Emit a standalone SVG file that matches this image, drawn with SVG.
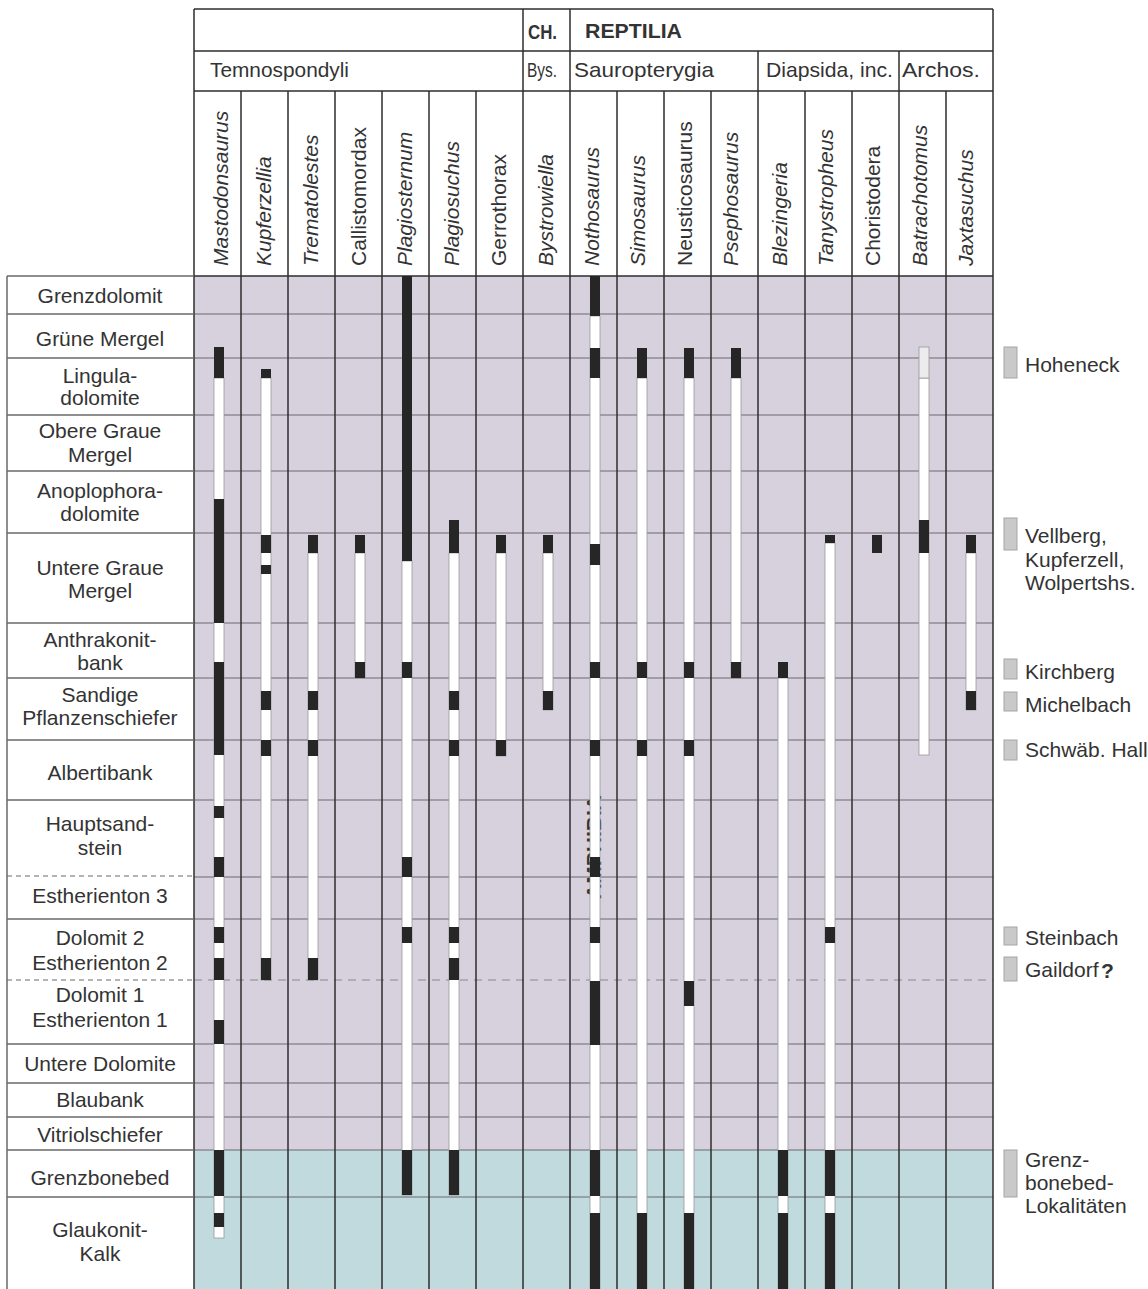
<svg xmlns="http://www.w3.org/2000/svg" width="1148" height="1289" viewBox="0 0 1148 1289">
<defs>
<style>
.t{font-family:"Liberation Sans",Arial,Helvetica,sans-serif;font-size:21px;fill:#333}
.c{text-anchor:middle}
.bd{font-weight:bold}
.i{font-style:italic}
.tx{font-family:"Liberation Sans",Arial,Helvetica,sans-serif;font-size:21px;fill:#333}
.ln{stroke:#2e2e2e;stroke-width:1.5;fill:none}
.gl{stroke:#6d6873;stroke-width:1;fill:none}
.lb{stroke:#6a6a6a;stroke-width:1.5;fill:none}
.ds{stroke:#6a6a6a;stroke-width:1.2;stroke-dasharray:5 4;fill:none}
.dc{stroke:#8a8590;stroke-width:1.2;stroke-dasharray:8 6;fill:none}
.b{fill:#262626}
.w{fill:#fff;stroke:#9a9a9a;stroke-width:0.8}
.p{fill:#ececee;stroke:#9a9a9a;stroke-width:0.8}
.lg{fill:#c9c9c9;stroke:#a5a5a5;stroke-width:1}
</style>
</defs>
<rect width="1148" height="1289" fill="#fff"/>

<g id="chart-background">
<rect x="194" y="276" width="799" height="874" fill="#d6d1dc"/>
<rect x="194" y="1150" width="799" height="139" fill="#c0dadd"/>
</g>

<g id="grid-rows">
<path class="gl" d="M194 314H993M194 358H993M194 415H993M194 471H993M194 533H993M194 623H993M194 678H993M194 740H993M194 800H993M194 877H993M194 919H993M194 1044H993M194 1083H993M194 1117H993M194 1150H993M194 1197H993"/>
<path class="dc" d="M194 980H993"/>
</g>

<g id="amphibia-label">
<text class="t bd" transform="translate(601,847) rotate(-90)" text-anchor="middle" font-size="20">AMPHIBIA</text>
</g>

<g id="header">
<path class="ln" d="M194 9H993M194 51H993M194 91H993M194 276H993"/>
<path class="ln" d="M194 9V1289M993 9V1289M523 9V91M570 9V91M758 51V91M899 51V91"/>
<path class="ln" d="M241 91V1289M288 91V1289M335 91V1289M382 91V1289M429 91V1289M476 91V1289M523 91V1289M570 91V1289M617 91V1289M664 91V1289M711 91V1289M758 91V1289M805 91V1289M852 91V1289M899 91V1289M946 91V1289"/>
<text class="t bd" x="528" y="39" font-size="19" textLength="29" lengthAdjust="spacingAndGlyphs">CH.</text>
<text class="t bd" x="585" y="38" font-size="20" textLength="97" lengthAdjust="spacingAndGlyphs">REPTILIA</text>
<text class="t" x="210" y="77" textLength="139" lengthAdjust="spacingAndGlyphs">Temnospondyli</text>
<text class="t" x="527" y="77" textLength="30" lengthAdjust="spacingAndGlyphs">Bys.</text>
<text class="t" x="574" y="77" textLength="140" lengthAdjust="spacingAndGlyphs">Sauropterygia</text>
<text class="t" x="766" y="77" textLength="127" lengthAdjust="spacingAndGlyphs">Diapsida, inc.</text>
<text class="t" x="902" y="77" textLength="78" lengthAdjust="spacingAndGlyphs">Archos.</text>
</g>

<g id="taxa-names">
<text class="t i" transform="translate(228,266) rotate(-90)">Mastodonsaurus</text>
<text class="t i" transform="translate(271,266) rotate(-90)">Kupferzellia</text>
<text class="t i" transform="translate(318,266) rotate(-90)">Trematolestes</text>
<text class="t" transform="translate(366,266) rotate(-90)">Callistomordax</text>
<text class="t i" transform="translate(412,266) rotate(-90)">Plagiosternum</text>
<text class="t i" transform="translate(459,266) rotate(-90)">Plagiosuchus</text>
<text class="t" transform="translate(506,266) rotate(-90)">Gerrothorax</text>
<text class="t i" transform="translate(553,266) rotate(-90)">Bystrowiella</text>
<text class="t i" transform="translate(599,266) rotate(-90)">Nothosaurus</text>
<text class="t i" transform="translate(645,266) rotate(-90)">Simosaurus</text>
<text class="t" transform="translate(692,266) rotate(-90)">Neusticosaurus</text>
<text class="t i" transform="translate(738,266) rotate(-90)">Psephosaurus</text>
<text class="t i" transform="translate(787,266) rotate(-90)">Blezingeria</text>
<text class="t i" transform="translate(833,266) rotate(-90)">Tanystropheus</text>
<text class="t" transform="translate(880,266) rotate(-90)">Choristodera</text>
<text class="t i" transform="translate(927,266) rotate(-90)">Batrachotomus</text>
<text class="t i" transform="translate(973,266) rotate(-90)">Jaxtasuchus</text>
</g>

<g id="strata-labels">
<path class="lb" d="M7 276H194M7 314H194M7 358H194M7 415H194M7 471H194M7 533H194M7 623H194M7 678H194M7 740H194M7 800H194M7 919H194M7 1044H194M7 1083H194M7 1117H194M7 1150H194M7 1197H194M7 276V1289"/>
<path class="ds" d="M7 876H194M7 980H194"/>
<text class="t c" x="100" y="303">Grenzdolomit</text>
<text class="t c" x="100" y="346">Grüne Mergel</text>
<text class="t c" x="100" y="383">Lingula-</text>
<text class="t c" x="100" y="405">dolomite</text>
<text class="t c" x="100" y="438">Obere Graue</text>
<text class="t c" x="100" y="462">Mergel</text>
<text class="t c" x="100" y="498">Anoplophora-</text>
<text class="t c" x="100" y="521">dolomite</text>
<text class="t c" x="100" y="575">Untere Graue</text>
<text class="t c" x="100" y="598">Mergel</text>
<text class="t c" x="100" y="647">Anthrakonit-</text>
<text class="t c" x="100" y="670">bank</text>
<text class="t c" x="100" y="702">Sandige</text>
<text class="t c" x="100" y="725">Pflanzenschiefer</text>
<text class="t c" x="100" y="780">Albertibank</text>
<text class="t c" x="100" y="831">Hauptsand-</text>
<text class="t c" x="100" y="855">stein</text>
<text class="t c" x="100" y="903">Estherienton 3</text>
<text class="t c" x="100" y="945">Dolomit 2</text>
<text class="t c" x="100" y="970">Estherienton 2</text>
<text class="t c" x="100" y="1002">Dolomit 1</text>
<text class="t c" x="100" y="1027">Estherienton 1</text>
<text class="t c" x="100" y="1071">Untere Dolomite</text>
<text class="t c" x="100" y="1107">Blaubank</text>
<text class="t c" x="100" y="1142">Vitriolschiefer</text>
<text class="t c" x="100" y="1185">Grenzbonebed</text>
<text class="t c" x="100" y="1237">Glaukonit-</text>
<text class="t c" x="100" y="1261">Kalk</text>
</g>

<g id="bar-mastodonsaurus">
<rect class="w" x="214" y="378" width="10" height="860"/>
<rect class="b" x="214" y="347" width="10" height="31"/>
<rect class="b" x="214" y="499" width="10" height="124"/>
<rect class="b" x="214" y="662" width="10" height="93"/>
<rect class="b" x="214" y="806" width="10" height="12"/>
<rect class="b" x="214" y="857" width="10" height="20"/>
<rect class="b" x="214" y="927" width="10" height="16"/>
<rect class="b" x="214" y="958" width="10" height="22"/>
<rect class="b" x="214" y="1020" width="10" height="24"/>
<rect class="b" x="214" y="1150" width="10" height="46"/>
<rect class="b" x="214" y="1213" width="10" height="14"/>
</g>
<g id="bar-kupferzellia">
<rect class="w" x="261" y="378" width="10" height="602"/>
<rect class="b" x="261" y="369" width="10" height="9"/>
<rect class="b" x="261" y="535" width="10" height="18"/>
<rect class="b" x="261" y="565" width="10" height="9"/>
<rect class="b" x="261" y="691" width="10" height="19"/>
<rect class="b" x="261" y="740" width="10" height="16"/>
<rect class="b" x="261" y="958" width="10" height="22"/>
</g>
<g id="bar-trematolestes">
<rect class="w" x="308" y="553" width="10" height="427"/>
<rect class="b" x="308" y="535" width="10" height="18"/>
<rect class="b" x="308" y="691" width="10" height="19"/>
<rect class="b" x="308" y="740" width="10" height="16"/>
<rect class="b" x="308" y="958" width="10" height="22"/>
</g>
<g id="bar-callistomordax">
<rect class="w" x="355" y="553" width="10" height="125"/>
<rect class="b" x="355" y="535" width="10" height="18"/>
<rect class="b" x="355" y="662" width="10" height="16"/>
</g>
<g id="bar-plagiosternum">
<rect class="w" x="402" y="561" width="10" height="634"/>
<rect class="b" x="402" y="276" width="10" height="285"/>
<rect class="b" x="402" y="662" width="10" height="16"/>
<rect class="b" x="402" y="857" width="10" height="20"/>
<rect class="b" x="402" y="927" width="10" height="16"/>
<rect class="b" x="402" y="1150" width="10" height="45"/>
</g>
<g id="bar-plagiosuchus">
<rect class="w" x="449" y="553" width="10" height="642"/>
<rect class="b" x="449" y="520" width="10" height="33"/>
<rect class="b" x="449" y="691" width="10" height="19"/>
<rect class="b" x="449" y="740" width="10" height="16"/>
<rect class="b" x="449" y="927" width="10" height="16"/>
<rect class="b" x="449" y="958" width="10" height="22"/>
<rect class="b" x="449" y="1150" width="10" height="45"/>
</g>
<g id="bar-gerrothorax">
<rect class="w" x="496" y="553" width="10" height="203"/>
<rect class="b" x="496" y="535" width="10" height="18"/>
<rect class="b" x="496" y="740" width="10" height="16"/>
</g>
<g id="bar-bystrowiella">
<rect class="w" x="543" y="553" width="10" height="157"/>
<rect class="b" x="543" y="535" width="10" height="18"/>
<rect class="b" x="543" y="691" width="10" height="19"/>
</g>
<g id="bar-nothosaurus">
<rect class="w" x="590" y="316" width="10" height="973"/>
<rect class="b" x="590" y="276" width="10" height="40"/>
<rect class="b" x="590" y="348" width="10" height="30"/>
<rect class="b" x="590" y="544" width="10" height="21"/>
<rect class="b" x="590" y="662" width="10" height="16"/>
<rect class="b" x="590" y="740" width="10" height="16"/>
<rect class="b" x="590" y="857" width="10" height="20"/>
<rect class="b" x="590" y="927" width="10" height="16"/>
<rect class="b" x="590" y="981" width="10" height="64"/>
<rect class="b" x="590" y="1150" width="10" height="46"/>
<rect class="b" x="590" y="1213" width="10" height="76"/>
</g>
<g id="bar-simosaurus">
<rect class="w" x="637" y="378" width="10" height="911"/>
<rect class="b" x="637" y="348" width="10" height="30"/>
<rect class="b" x="637" y="662" width="10" height="16"/>
<rect class="b" x="637" y="740" width="10" height="16"/>
<rect class="b" x="637" y="1213" width="10" height="76"/>
</g>
<g id="bar-neusticosaurus">
<rect class="w" x="684" y="378" width="10" height="911"/>
<rect class="b" x="684" y="348" width="10" height="30"/>
<rect class="b" x="684" y="662" width="10" height="16"/>
<rect class="b" x="684" y="740" width="10" height="16"/>
<rect class="b" x="684" y="981" width="10" height="25"/>
<rect class="b" x="684" y="1213" width="10" height="76"/>
</g>
<g id="bar-psephosaurus">
<rect class="w" x="731" y="378" width="10" height="300"/>
<rect class="b" x="731" y="348" width="10" height="30"/>
<rect class="b" x="731" y="662" width="10" height="16"/>
</g>
<g id="bar-blezingeria">
<rect class="w" x="778" y="678" width="10" height="611"/>
<rect class="b" x="778" y="662" width="10" height="16"/>
<rect class="b" x="778" y="1150" width="10" height="46"/>
<rect class="b" x="778" y="1213" width="10" height="76"/>
</g>
<g id="bar-tanystropheus">
<rect class="w" x="825" y="543" width="10" height="746"/>
<rect class="b" x="825" y="535" width="10" height="8"/>
<rect class="b" x="825" y="927" width="10" height="16"/>
<rect class="b" x="825" y="1150" width="10" height="46"/>
<rect class="b" x="825" y="1213" width="10" height="76"/>
</g>
<g id="bar-choristodera">
<rect class="b" x="872" y="535" width="10" height="18"/>
</g>
<g id="bar-batrachotomus">
<rect class="w" x="919" y="378" width="10" height="377"/>
<rect class="p" x="919" y="347" width="10" height="31"/>
<rect class="b" x="919" y="520" width="10" height="33"/>
</g>
<g id="bar-jaxtasuchus">
<rect class="w" x="966" y="553" width="10" height="157"/>
<rect class="b" x="966" y="535" width="10" height="18"/>
<rect class="b" x="966" y="691" width="10" height="19"/>
</g>

<g id="legend">
<rect class="lg" x="1004" y="347" width="13" height="31"/>
<text class="t" x="1025" y="372" font-size="20">Hoheneck</text>
<rect class="lg" x="1004" y="518" width="13" height="32"/>
<text class="t" x="1025" y="543" font-size="20">Vellberg,</text>
<text class="t" x="1025" y="567" font-size="20">Kupferzell,</text>
<text class="t" x="1025" y="590" font-size="20">Wolpertshs.</text>
<rect class="lg" x="1004" y="659" width="13" height="20"/>
<text class="t" x="1025" y="679" font-size="20">Kirchberg</text>
<rect class="lg" x="1004" y="692" width="13" height="19"/>
<text class="t" x="1025" y="712" font-size="20">Michelbach</text>
<rect class="lg" x="1004" y="740" width="13" height="20"/>
<text class="t" x="1025" y="757" font-size="20">Schwäb. Hall</text>
<rect class="lg" x="1004" y="927" width="13" height="18"/>
<text class="t" x="1025" y="945" font-size="20">Steinbach</text>
<rect class="lg" x="1004" y="957" width="13" height="24"/>
<text class="t" x="1025" y="977" font-size="20">Gaildorf</text>
<text class="t bd" x="1101" y="978" font-size="23">?</text>
<rect class="lg" x="1004" y="1150" width="13" height="47"/>
<text class="t" x="1025" y="1167" font-size="20">Grenz-</text>
<text class="t" x="1025" y="1190" font-size="20">bonebed-</text>
<text class="t" x="1025" y="1213" font-size="20">Lokalitäten</text>
</g>
</svg>
